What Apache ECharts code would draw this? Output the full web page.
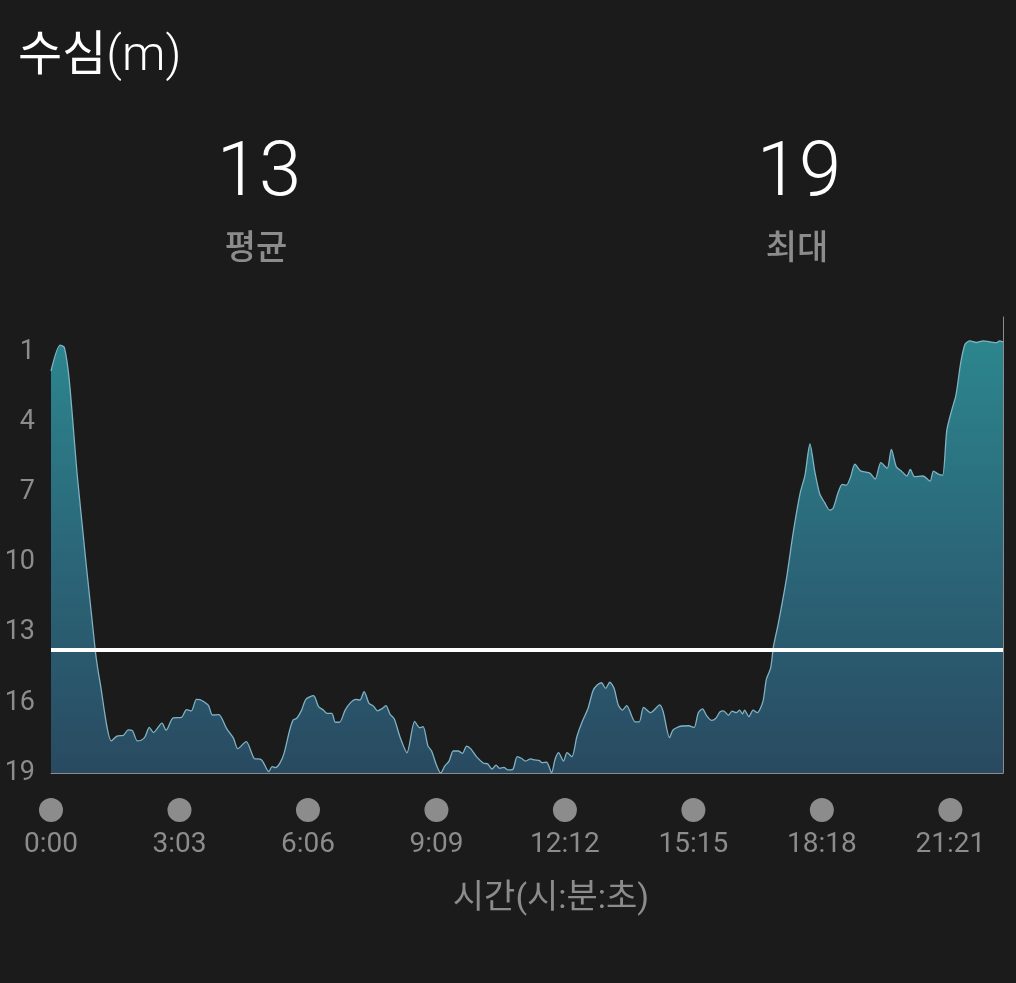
<!DOCTYPE html>
<html>
<head>
<meta charset="utf-8">
<script src="https://cdn.jsdelivr.net/npm/echarts@6/dist/echarts.min.js"></script>
<style>
html,body{margin:0;padding:0;background:#1b1b1b;}
#c{width:1016px;height:983px;}
</style>
</head>
<body>
<div id="c"></div>
<script>
const titleMain = '수심';
const titleUnit = '(m)';
const statValues = ['13', '19'];
const statLabels = ['평균', '최대'];
const xAxisName = '시간(시:분:초)';
const avgDepth = 13.74;
const yTickValues = [1, 4, 7, 10, 13, 16, 19];
const xTickValues = [0, 183, 366, 549, 732, 915, 1098, 1281];
const xTickLabels = ['0:00', '3:03', '6:06', '9:09', '12:12', '15:15', '18:18', '21:21'];
const timeSec = [0,13,19,26,38,63,70,86,94,103,110,116,123,129,134,140,146,158,164,174,186,193,200,207,212,224,230,239,250,260,266,278,290,298,302,310,315,320,326,332,340,345,350,357,363,374,381,388,393,400,405,411,419,427,434,440,446,453,459,465,471,477,483,489,497,507,518,525,530,537,542,549,555,561,567,573,580,586,592,598,606,616,622,628,634,639,645,651,658,664,670,676,683,689,696,699,706,713,718,723,730,735,742,749,756,765,772,778,784,790,796,802,808,814,820,832,838,844,854,867,872,881,886,898,908,916,922,928,934,941,947,953,958,965,970,976,981,985,988,994,1000,1006,1014,1019,1025,1029,1036,1048,1057,1067,1074,1081,1088,1095,1102,1109,1114,1121,1127,1133,1139,1145,1153,1162,1167,1174,1182,1191,1197,1204,1211,1219,1224,1230,1242,1252,1257,1264,1270,1276,1283,1289,1296,1302,1309,1318,1328,1337,1347,1351,1356];
const depthM = [1.81,0.70,0.80,2.20,6.47,13.74,15.15,17.63,17.42,17.39,17.16,17.19,17.63,17.59,17.45,17.05,17.27,16.87,17.17,16.64,16.62,16.29,16.34,15.85,15.86,16.10,16.52,16.50,17.09,17.52,17.96,17.66,18.39,18.41,18.52,18.94,18.73,18.77,18.58,18.16,17.16,16.73,16.66,16.31,15.85,15.69,16.16,16.31,16.45,16.45,16.83,16.83,16.31,15.98,15.85,15.88,15.52,16.02,16.13,16.34,16.26,16.12,16.49,16.69,17.45,18.13,16.79,17.06,17.02,17.85,18.05,18.66,19.0,18.70,18.49,18.06,18.06,18.16,17.85,17.97,18.30,18.58,18.61,18.83,18.66,18.80,18.76,18.87,18.84,18.30,18.37,18.49,18.40,18.44,18.47,18.56,18.54,18.99,18.41,18.13,18.49,18.13,18.30,17.45,16.85,16.23,15.48,15.24,15.14,15.38,15.12,15.38,16.09,16.31,16.12,16.81,16.81,16.19,16.42,16.09,16.38,17.49,17.16,16.99,16.98,17.05,16.42,16.26,16.56,16.75,16.66,16.38,16.34,16.53,16.35,16.42,16.31,16.48,16.31,16.59,16.31,16.42,15.95,14.99,14.52,13.60,12.60,10.61,8.75,7.04,6.26,4.93,6.12,7.07,7.44,7.76,7.68,7.02,6.66,6.69,6.33,5.79,6.08,6.14,6.19,6.43,5.73,5.97,5.16,5.90,6.08,6.30,6.02,6.33,6.30,6.52,6.09,6.22,6.26,4.34,3.48,2.84,1.42,0.66,0.52,0.59,0.52,0.56,0.60,0.52,0.56];

const n = Math.min(timeSec.length, depthM.length);
const seriesData = [];
for (let i = 0; i < n; i++) seriesData.push([timeSec[i], depthM[i]]);

const FONT = 'Roboto, "Noto Sans CJK KR", sans-serif';
const GRAY = '#8c8c8c';

const chart = echarts.init(document.getElementById('c'), null, {renderer: 'canvas'});
chart.setOption({
  backgroundColor: '#1b1b1b',
  animation: false,
  textStyle: {fontFamily: FONT},
  grid: {left: 51, right: 13, top: 317, bottom: 210, containLabel: false},
  graphic: [
    {type: 'text', x: 18, y: 58, style: {
      text: '{a|' + titleMain + '}{b|' + titleUnit + '}',
      textVerticalAlign: 'middle',
      rich: {
        a: {fontSize: 48, fontWeight: 'normal', fill: '#ffffff', fontFamily: FONT},
        b: {fontSize: 49, fontWeight: 300, fill: '#ffffff', fontFamily: FONT}
      }
    }},
    {type: 'text', x: 259, y: 176, style: {text: statValues[0], fill: '#ffffff', font: '300 76px ' + FONT, textAlign: 'center', textVerticalAlign: 'middle'}},
    {type: 'text', x: 799, y: 176, style: {text: statValues[1], fill: '#ffffff', font: '300 76px ' + FONT, textAlign: 'center', textVerticalAlign: 'middle'}},
    {type: 'text', x: 256, y: 250, style: {text: statLabels[0], fill: GRAY, font: '500 34px ' + FONT, textAlign: 'center', textVerticalAlign: 'middle'}},
    {type: 'text', x: 797, y: 250, style: {text: statLabels[1], fill: GRAY, font: '500 34px ' + FONT, textAlign: 'center', textVerticalAlign: 'middle'}},
    {type: 'text', x: 551, y: 899, style: {text: xAxisName, fill: GRAY, font: '34px ' + FONT, textAlign: 'center', textVerticalAlign: 'middle'}}
  ],
  xAxis: {
    type: 'value', min: 0, max: 1356,
    axisLine: {show: true, onZero: false, lineStyle: {color: '#8c8c8c', width: 1}},
    axisTick: {show: false},
    splitLine: {show: false},
    axisLabel: {
      customValues: xTickValues,
      margin: 25,
      formatter: function (v) {
        const i = xTickValues.indexOf(v);
        return '{d|}\n{t|' + (i >= 0 ? xTickLabels[i] : '') + '}';
      },
      rich: {
        d: {width: 24, height: 24, lineHeight: 24, borderRadius: 12, backgroundColor: GRAY},
        t: {fontSize: 28, lineHeight: 46, color: GRAY, fontFamily: FONT}
      }
    }
  },
  yAxis: [
    {
      type: 'value', inverse: true, min: -0.5, max: 19,
      axisLine: {show: false},
      axisTick: {show: false},
      splitLine: {show: false},
      axisLabel: {customValues: yTickValues, color: GRAY, fontSize: 27, margin: 16, fontFamily: FONT}
    },
    {
      type: 'value', inverse: true, min: -0.5, max: 19, position: 'right',
      axisLine: {show: true, onZero: false, lineStyle: {color: '#8c8c8c', width: 1}},
      axisTick: {show: false}, axisLabel: {show: false}, splitLine: {show: false}
    }
  ],
  series: [{
    type: 'line',
    data: seriesData,
    yAxisIndex: 0,
    showSymbol: false,
    smooth: 0.25,
    lineStyle: {color: '#7fb2c2', width: 1.3},
    areaStyle: {
      origin: 'end',
      opacity: 1,
      color: new echarts.graphic.LinearGradient(0, 0, 0, 1, [
        {offset: 0, color: '#2c868d'},
        {offset: 0.5, color: '#2b6678'},
        {offset: 1, color: '#294a61'}
      ])
    },
    markLine: {
      silent: true,
      symbol: ['none', 'none'],
      label: {show: false},
      lineStyle: {color: '#ffffff', width: 4, type: 'solid'},
      data: [{yAxis: avgDepth}]
    }
  }]
});
</script>
</body>
</html>
